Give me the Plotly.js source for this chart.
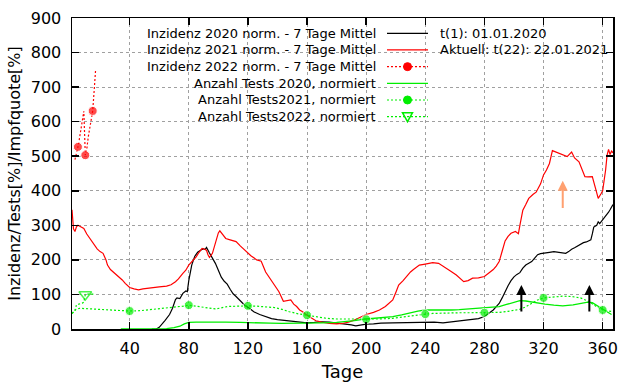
<!DOCTYPE html>
<html><head><meta charset="utf-8">
<script src="https://cdn.plot.ly/plotly-3.0.1.min.js"></script>
<style>html,body{margin:0;padding:0;background:#fff}#chart{width:640px;height:384px}</style>
</head><body><div id="chart"></div>
<script>
// ---- data ----
const inz2020Day = [55,58,60,62,64,67,69,71,72,74,76,78,79,80,82,84,86,88,90,91,92,94,96,98,100,102,104,106,108,110,112,115,118,121,124,128,132,136,140,145,150,155,160,165,170,175,180,185,190,193,196,200,205,210,218,225,232,240,246,252,258,263,268,272,276,280,283,286,288,290,292,294,296,298,300,302,304,306,308,310,312,314,316,318,320,322,324,327,330,333,335,337,339,341,343,345,347,349,351,352,353,354,356,357,358,360,362,363,364,365,366,367];
const inz2020Val = [0,0,5,14,25,42,60,85,90,88,103,110,108,140,185,210,222,228,232,230,236,220,205,190,170,150,138,130,115,102,94,82,68,60,50,42,35,30,27,25,22,20,18,19,21,20,18,16,12,9,11,14,15,17,18,19,20,21,20,18,21,23,25,27,30,36,45,55,65,74,90,110,125,140,151,158,163,176,185,190,195,205,215,218,220,221,222,224,222,220,219,224,231,235,240,245,250,252,256,258,275,295,300,310,305,315,325,330,338,345,352,360];

const inz2021Day = [1,2,3,4,5,6,8,9,11,13,15,16,18,20,22,24,25,27,30,33,35,37,40,43,46,49,52,56,60,65,68,71,73,76,78,80,83,85,87,89,90,92,93,94,96,98,100,101,103,105,108,112,115,119,122,126,129,132,135,139,141,144,147,149,151,153,155,157,160,163,166,170,175,180,184,188,191,195,200,205,209,213,216,218,220,222,225,227,230,232,234,236,240,245,249,252,254,257,261,264,266,269,272,276,280,283,286,288,290,292,294,296,298,301,303,304,306,308,310,313,315,318,320,322,324,326,330,333,336,339,341,344,346,348,350,353,355,357,359,360,362,363,364,365,366,367];
const inz2021Val = [345,290,282,296,300,298,294,291,275,262,250,243,232,224,219,200,185,172,161,150,142,132,120,116,113,116,118,119,122,124,128,137,145,161,170,185,198,209,222,233,232,228,215,207,219,250,278,284,272,262,258,253,240,224,212,200,196,165,145,122,108,80,82,84,72,65,55,50,40,32,24,20,16,15,16,20,24,32,42,48,55,65,75,84,105,127,140,151,165,172,180,185,188,192,190,182,178,168,156,145,137,140,147,148,152,162,172,182,195,225,255,268,277,282,276,300,344,360,378,390,396,420,446,460,479,516,510,505,499,512,495,484,460,441,440,441,410,378,392,400,460,503,520,505,515,510];

const inz2022Day = [3,4,5,6,7,8,9,10,11,12,13,14,15,16,17];
const inz2022Val = [490,505,527,550,580,605,630,503,520,556,585,610,631,690,752];

const tests2020Day = [34,45,55,65,70,74,77,80,85,95,105,115,121,128,135,143,150,160,170,180,186,192,200,208,218,224,229,235,240,246,252,258,263,270,280,286,290,295,300,304,308,312,316,321,327,333,340,345,350,353,356,360,363,366];
const tests2020Val = [0,0,0,1,4,8,15,19,20,21,20,19,19,18,17,16,16,17,18,19,21,24,29,32,36,41,47,52,55,55,53,55,56,58,60,62,65,71,78,82,81,78,75,72,69,67,70,74,78,76,68,58,50,42];

const tests2021Day = [1,3,6,10,15,20,26,33,40,47,54,60,66,72,76,80,85,90,94,98,102,106,112,116,120,126,132,138,143,148,154,160,166,173,180,186,193,200,209,218,226,233,240,245,250,256,263,270,275,280,285,290,296,300,304,308,312,316,320,326,333,339,345,351,355,360,364,367];
const tests2021Val = [45,55,60,59,58,57,55,53,52,53,56,58,60,63,66,69,66,62,60,58,61,65,66,67,67,66,65,62,57,50,44,40,35,31,29,29,28,28,29,31,36,40,43,45,46,47,47,47,47,47,47,48,51,54,57,64,74,84,90,93,95,94,90,79,67,55,52,50];

const tests2022Day = [1,3,4,6,8,9,10,12,14,16];
const tests2022Val = [45,52,70,72,75,78,100,101,101,101];

const xTicks = [40,80,120,160,200,240,280,320,360];
const yTicks = [0,100,200,300,400,500,600,700,800,900];

const legendLabels = [
  'Inzidenz 2020 norm. - 7 Tage Mittel',
  'Inzidenz 2021 norm. - 7 Tage Mittel',
  'Inzidenz 2022 norm. - 7 Tage Mittel',
  'Anzahl Tests 2020, normiert',
  'Anzahl Tests2021, normiert',
  'Anzahl Tests2022, normiert'
];
const infoLines = ['t(1): 01.01.2020', 'Aktuell: t(22): 22.01.2021'];

const blackArrowDays = [305, 351];
const blackArrowFrom = 46, blackArrowTo = 127;
const orangeArrowDay = 333;
const orangeArrowFrom = 346, orangeArrowTo = 429;

// ---- styles ----
const RED = '#ff0000', GREEN = '#00ee00', BLACK = '#000000', ORANGE = '#ffa070';
const FONT = 'DejaVu Sans';
const DOT = '2px,2px';

const traces = [
  {x: inz2020Day, y: inz2020Val, mode: 'lines', line: {color: BLACK, width: 1.2}},
  {x: inz2021Day, y: inz2021Val, mode: 'lines', line: {color: RED, width: 1.2}},
  {x: inz2022Day, y: inz2022Val, mode: 'lines+markers', line: {color: RED, width: 1.2, dash: DOT},
   marker: {color: RED, size: inz2022Day.map(d => d % 5 === 0 ? 9 : 0)}},
  {x: tests2020Day, y: tests2020Val, mode: 'lines', line: {color: GREEN, width: 1.3}},
  {x: tests2021Day, y: tests2021Val, mode: 'lines+markers', line: {color: GREEN, width: 1.2, dash: DOT},
   marker: {color: GREEN, size: tests2021Day.map(d => d % 40 === 0 ? 9 : 0)}},
  {x: tests2022Day, y: tests2022Val, mode: 'lines+markers', line: {color: GREEN, width: 1.2, dash: DOT},
   marker: {color: GREEN, symbol: 'triangle-down-open', line: {width: 1.5, color: GREEN},
            size: tests2022Day.map(d => d % 10 === 0 ? 11 : 0)}}
];

// legend drawn gnuplot-style: right-aligned text, sample to the right
const px = v => (v - 72) / 541;
const py = v => (329 - v) / 311;
const rowY = i => py(33.3 + i * 16.67);
const annotations = [];
const shapes = [
  {type: 'rect', xref: 'paper', yref: 'paper', x0: px(82), x1: px(436), y0: py(127), y1: 1,
   fillcolor: '#ffffff', line: {width: 0}, layer: 'between'}
];
const sampleStyles = [
  {color: BLACK, dash: 'solid'}, {color: RED, dash: 'solid'}, {color: RED, dash: DOT},
  {color: GREEN, dash: 'solid'}, {color: GREEN, dash: DOT}, {color: GREEN, dash: DOT}
];
legendLabels.forEach((t, i) => {
  annotations.push({xref: 'paper', yref: 'paper', x: px(378), y: rowY(i), xanchor: 'right', yanchor: 'middle',
    text: t, showarrow: false, font: {family: FONT, size: 13, color: '#000'}});
  shapes.push({type: 'line', xref: 'paper', yref: 'paper', x0: px(387), x1: px(428), y0: rowY(i), y1: rowY(i),
    line: {color: sampleStyles[i].color, width: 1.2, dash: sampleStyles[i].dash}});
});
[[2, RED], [4, GREEN]].forEach(([i, c]) => {
  shapes.push({type: 'circle', xref: 'paper', yref: 'paper', xsizemode: 'pixel', ysizemode: 'pixel',
    xanchor: px(407.5), yanchor: rowY(i), x0: -4, x1: 4, y0: -4, y1: 4, fillcolor: c, line: {color: c, width: 1}});
});
shapes.push({type: 'path', xref: 'paper', yref: 'paper', xsizemode: 'pixel', ysizemode: 'pixel',
  xanchor: px(407.5), yanchor: rowY(5), path: 'M-5,4 L5,4 L0,-5 Z', fillcolor: 'rgba(0,0,0,0)',
  line: {color: GREEN, width: 1.5}});
infoLines.forEach((t, i) => {
  annotations.push({xref: 'paper', yref: 'paper', x: px(438), y: rowY(i), xanchor: 'left', yanchor: 'middle',
    text: t, showarrow: false, font: {family: FONT, size: 13, color: '#000'}});
});
blackArrowDays.forEach(d => {
  annotations.push({x: d, y: blackArrowTo, ax: d, ay: blackArrowFrom, xref: 'x', yref: 'y', axref: 'x', ayref: 'y',
    text: '', showarrow: true, arrowhead: 2, arrowsize: 1, arrowwidth: 2, arrowcolor: BLACK});
});
annotations.push({x: orangeArrowDay, y: orangeArrowTo, ax: orangeArrowDay, ay: orangeArrowFrom, xref: 'x', yref: 'y',
  axref: 'x', ayref: 'y', text: '', showarrow: true, arrowhead: 2, arrowsize: 1, arrowwidth: 2, arrowcolor: ORANGE});

const layout = {
  width: 640, height: 384,
  margin: {l: 72, r: 27, t: 18, b: 55},
  paper_bgcolor: '#fff', plot_bgcolor: '#fff',
  showlegend: false,
  font: {family: FONT, size: 16, color: '#000'},
  xaxis: {
    range: [1, 367], tickvals: xTicks, ticktext: xTicks.map(String),
    ticks: 'inside', ticklen: 7, tickwidth: 1.5, tickcolor: '#000',
    showline: true, linecolor: '#000', linewidth: 1.5, mirror: 'ticks',
    showgrid: true, gridcolor: '#a0a0a0', griddash: 'dot', gridwidth: 1,
    zeroline: false, ticklabelstandoff: 4,
    tickfont: {family: FONT, size: 16, color: '#000'},
    title: {text: 'Tage', font: {family: FONT, size: 18, color: '#000'}, standoff: 8}
  },
  yaxis: {
    range: [0, 900], tickvals: yTicks, ticktext: yTicks.map(String),
    ticks: 'inside', ticklen: 7, tickwidth: 1.5, tickcolor: '#000',
    showline: true, linecolor: '#000', linewidth: 1.5, mirror: 'ticks',
    showgrid: true, gridcolor: '#a0a0a0', griddash: 'dot', gridwidth: 1,
    zeroline: false, ticklabelstandoff: 6,
    tickfont: {family: FONT, size: 16, color: '#000'},
    title: {text: 'Inzidenz/Tests[%]/Impfquote[%]', font: {family: FONT, size: 16, color: '#000'}, standoff: 6}
  },
  shapes: shapes,
  annotations: annotations
};

Plotly.newPlot('chart', traces, layout, {staticPlot: true, displayModeBar: false});
</script>
</body></html>
